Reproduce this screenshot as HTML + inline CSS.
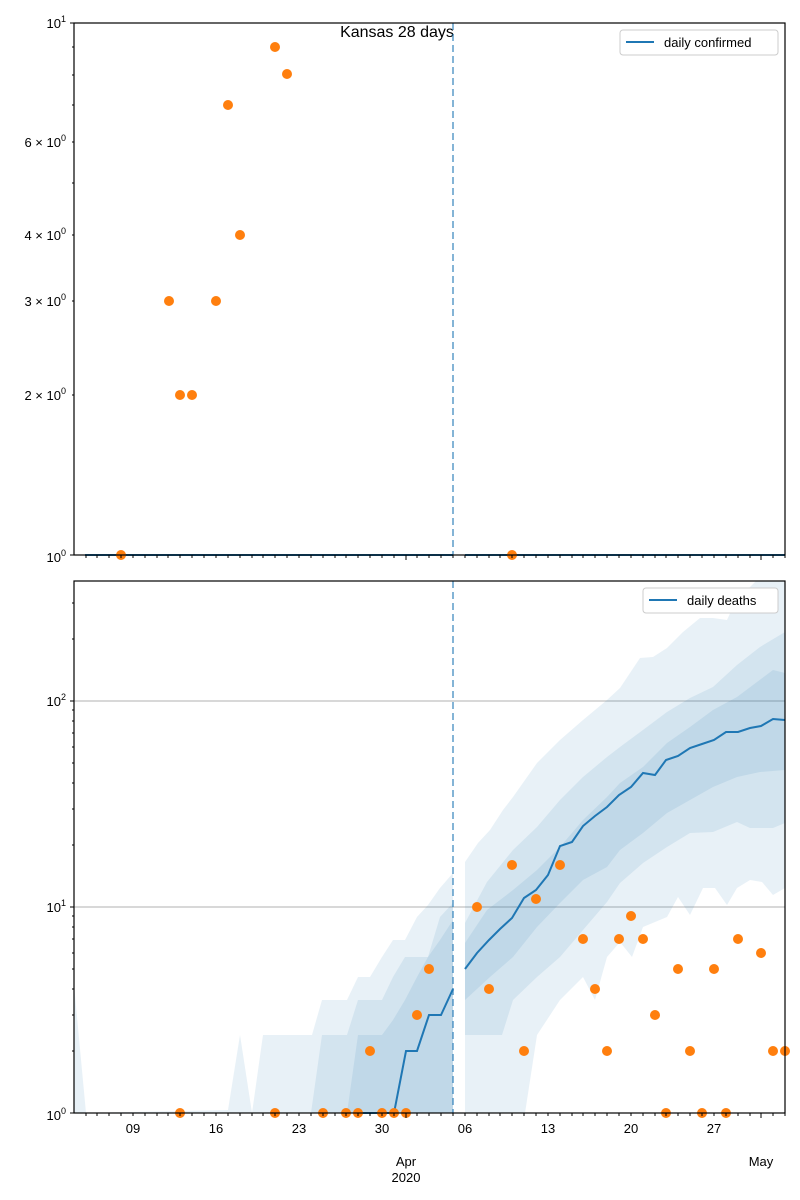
<!DOCTYPE html>
<html><head><meta charset="utf-8"><style>body{margin:0;background:#fff}svg{display:block}</style></head>
<body>
<svg width="800" height="1200" xmlns="http://www.w3.org/2000/svg" font-family="Liberation Sans, DejaVu Sans, sans-serif">
<rect width="800" height="1200" fill="#fff"/>
<!-- TOP PANEL -->
<text x="397" y="37" font-size="16" text-anchor="middle">Kansas 28 days</text>
<line x1="85" y1="555" x2="453" y2="555" stroke="#1f77b4" stroke-width="2"/>
<line x1="465" y1="555" x2="785" y2="555" stroke="#1f77b4" stroke-width="2"/>
<line x1="453" y1="23" x2="453" y2="555" stroke="#1f77b4" stroke-opacity="0.55" stroke-width="2" stroke-dasharray="7,4"/>
<g fill="#ff7f0e">
<circle cx="121" cy="555" r="5"/><circle cx="169" cy="301" r="5"/><circle cx="180" cy="395" r="5"/><circle cx="192" cy="395" r="5"/><circle cx="216" cy="301" r="5"/><circle cx="228" cy="105" r="5"/><circle cx="240" cy="235" r="5"/><circle cx="275" cy="47" r="5"/><circle cx="287" cy="74" r="5"/><circle cx="512" cy="555" r="5"/>
</g>
<rect x="74" y="23" width="711" height="532" fill="none" stroke="#000" stroke-width="1.2"/>
<g stroke="#000" stroke-width="1">
<line x1="70" y1="23" x2="74" y2="23"/><line x1="70" y1="555" x2="74" y2="555"/>
<line x1="72" y1="47" x2="74" y2="47"/><line x1="72" y1="75" x2="74" y2="75"/><line x1="72" y1="105" x2="74" y2="105"/><line x1="72" y1="142" x2="74" y2="142"/><line x1="72" y1="183" x2="74" y2="183"/><line x1="72" y1="235" x2="74" y2="235"/><line x1="72" y1="301" x2="74" y2="301"/><line x1="72" y1="395" x2="74" y2="395"/>
</g>
<g font-size="13" text-anchor="end">
<text x="66" y="28">10<tspan dy="-6" font-size="9">1</tspan></text>
<text x="66" y="147">6 × 10<tspan dy="-6" font-size="9">0</tspan></text>
<text x="66" y="240">4 × 10<tspan dy="-6" font-size="9">0</tspan></text>
<text x="66" y="306">3 × 10<tspan dy="-6" font-size="9">0</tspan></text>
<text x="66" y="400">2 × 10<tspan dy="-6" font-size="9">0</tspan></text>
<text x="66" y="562">10<tspan dy="-6" font-size="9">0</tspan></text>
</g>
<rect x="620" y="30" width="158" height="25" rx="3" fill="#fff" stroke="#ccc"/>
<line x1="626" y1="42" x2="654" y2="42" stroke="#1f77b4" stroke-width="2"/>
<text x="664" y="47" font-size="13">daily confirmed</text>

<!-- BOTTOM PANEL -->
<line x1="74" y1="907" x2="785" y2="907" stroke="#b0b0b0" stroke-width="1"/>
<line x1="74" y1="701" x2="785" y2="701" stroke="#b0b0b0" stroke-width="1"/>
<g fill="#1f77b4" fill-opacity="0.1">
<polygon points="74,985 86,1113 228,1110 240,1035 252,1113 263,1035 312,1035 322,1000 347,1000 358,977 370,977 382,957 393,940 405,940 417,917 428,905 440,888 453,873 453,1113 74,1113"/>
<polygon points="311,1113 322,1035 347,1035 358,1000 382,1000 393,977 405,957 428,957 440,917 453,903 453,1113"/>
<polygon points="347,1113 358,1035 382,1035 393,1020 405,1000 417,977 428,957 440,940 453,920 453,1113 440,1113"/>
<polygon points="465,862 478,843 490,830 503,810 513,797 537,763 560,740 583,720 607,700 620,688 640,658 653,657 667,648 683,632 700,618 713,618 727,620 733,607 750,587 756,581 785,581 785,888 773,895 762,882 750,880 737,888 727,905 715,888 703,888 690,915 678,897 667,917 643,927 632,957 620,942 607,957 595,1000 583,977 560,1000 537,1035 525,1113 465,1113"/>
<polygon points="465,923 487,882 513,850 537,827 560,800 583,777 607,757 620,747 643,730 667,712 690,698 713,687 737,665 760,647 785,632 785,823 773,828 750,828 737,822 713,832 690,833 667,847 643,863 620,883 607,902 583,930 560,957 537,977 513,1000 502,1035 465,1035"/>
<polygon points="465,943 487,910 513,890 537,870 560,847 583,820 607,797 620,783 643,767 667,743 690,727 713,710 737,697 773,670 785,673 785,770 760,772 737,777 713,787 690,800 667,813 643,833 620,850 607,867 583,880 560,903 537,927 513,957 490,977 465,1000"/>
</g>
<polyline fill="none" stroke="#1f77b4" stroke-width="2" points="358,1113 394,1113 406,1051 417,1051 429,1015 441,1015 453,989"/>
<polyline fill="none" stroke="#1f77b4" stroke-width="2" points="465,969 477,953 489,940 500,929 512,918 524,898 536,890 548,875 560,846 572,842 583,826 595,816 607,807 619,795 631,787 643,773 655,775 666,760 678,756 690,748 702,744 714,740 726,732 738,732 750,728 761,726 773,719 785,720"/>
<line x1="453" y1="581" x2="453" y2="1113" stroke="#1f77b4" stroke-opacity="0.55" stroke-width="2" stroke-dasharray="7,4"/>
<g fill="#ff7f0e">
<circle cx="180" cy="1113" r="5"/><circle cx="275" cy="1113" r="5"/><circle cx="323" cy="1113" r="5"/><circle cx="346" cy="1113" r="5"/><circle cx="358" cy="1113" r="5"/><circle cx="370" cy="1051" r="5"/><circle cx="382" cy="1113" r="5"/><circle cx="394" cy="1113" r="5"/><circle cx="406" cy="1113" r="5"/><circle cx="417" cy="1015" r="5"/><circle cx="429" cy="969" r="5"/><circle cx="477" cy="907" r="5"/><circle cx="489" cy="989" r="5"/><circle cx="512" cy="865" r="5"/><circle cx="524" cy="1051" r="5"/><circle cx="536" cy="899" r="5"/><circle cx="560" cy="865" r="5"/><circle cx="583" cy="939" r="5"/><circle cx="595" cy="989" r="5"/><circle cx="607" cy="1051" r="5"/><circle cx="619" cy="939" r="5"/><circle cx="631" cy="916" r="5"/><circle cx="643" cy="939" r="5"/><circle cx="655" cy="1015" r="5"/><circle cx="666" cy="1113" r="5"/><circle cx="678" cy="969" r="5"/><circle cx="690" cy="1051" r="5"/><circle cx="702" cy="1113" r="5"/><circle cx="714" cy="969" r="5"/><circle cx="726" cy="1113" r="5"/><circle cx="738" cy="939" r="5"/><circle cx="761" cy="953" r="5"/><circle cx="773" cy="1051" r="5"/><circle cx="785" cy="1051" r="5"/>
</g>
<rect x="74" y="581" width="711" height="532" fill="none" stroke="#000" stroke-width="1.2"/>
<g stroke="#000" stroke-width="1">
<line x1="70" y1="701" x2="74" y2="701"/><line x1="70" y1="907" x2="74" y2="907"/><line x1="70" y1="1113" x2="74" y2="1113"/>
<line x1="72" y1="1051" x2="74" y2="1051"/><line x1="72" y1="1015" x2="74" y2="1015"/><line x1="72" y1="989" x2="74" y2="989"/><line x1="72" y1="969" x2="74" y2="969"/><line x1="72" y1="953" x2="74" y2="953"/><line x1="72" y1="939" x2="74" y2="939"/><line x1="72" y1="927" x2="74" y2="927"/><line x1="72" y1="916" x2="74" y2="916"/>
<line x1="72" y1="845" x2="74" y2="845"/><line x1="72" y1="809" x2="74" y2="809"/><line x1="72" y1="783" x2="74" y2="783"/><line x1="72" y1="763" x2="74" y2="763"/><line x1="72" y1="747" x2="74" y2="747"/><line x1="72" y1="733" x2="74" y2="733"/><line x1="72" y1="721" x2="74" y2="721"/><line x1="72" y1="710" x2="74" y2="710"/>
<line x1="72" y1="639" x2="74" y2="639"/><line x1="72" y1="603" x2="74" y2="603"/>
</g>
<g font-size="13" text-anchor="end">
<text x="66" y="706">10<tspan dy="-6" font-size="9">2</tspan></text>
<text x="66" y="912">10<tspan dy="-6" font-size="9">1</tspan></text>
<text x="66" y="1120">10<tspan dy="-6" font-size="9">0</tspan></text>
</g>
<rect x="643" y="588" width="135" height="25" rx="3" fill="#fff" stroke="#ccc"/>
<line x1="649" y1="600" x2="677" y2="600" stroke="#1f77b4" stroke-width="2"/>
<text x="687" y="605" font-size="13">daily deaths</text>

<!-- x ticks -->
<g stroke="#000" stroke-width="1">
<path d="M406,555v5M761,555v5M406,1113v5M761,1113v5"/>
<path d="M86,1113v3M97,1113v3M109,1113v3M121,1113v3M133,1113v3M145,1113v3M157,1113v3M168,1113v3M180,1113v3M192,1113v3M204,1113v3M216,1113v3M228,1113v3M240,1113v3M252,1113v3M263,1113v3M275,1113v3M287,1113v3M299,1113v3M311,1113v3M323,1113v3M335,1113v3M346,1113v3M358,1113v3M370,1113v3M382,1113v3M394,1113v3M417,1113v3M429,1113v3M441,1113v3M453,1113v3M465,1113v3M477,1113v3M489,1113v3M500,1113v3M512,1113v3M524,1113v3M536,1113v3M548,1113v3M560,1113v3M572,1113v3M583,1113v3M595,1113v3M607,1113v3M619,1113v3M631,1113v3M643,1113v3M655,1113v3M666,1113v3M678,1113v3M690,1113v3M702,1113v3M714,1113v3M726,1113v3M738,1113v3M750,1113v3M773,1113v3M785,1113v3"/>
<path d="M86,555v3M97,555v3M109,555v3M121,555v3M133,555v3M145,555v3M157,555v3M168,555v3M180,555v3M192,555v3M204,555v3M216,555v3M228,555v3M240,555v3M252,555v3M263,555v3M275,555v3M287,555v3M299,555v3M311,555v3M323,555v3M335,555v3M346,555v3M358,555v3M370,555v3M382,555v3M394,555v3M417,555v3M429,555v3M441,555v3M453,555v3M465,555v3M477,555v3M489,555v3M500,555v3M512,555v3M524,555v3M536,555v3M548,555v3M560,555v3M572,555v3M583,555v3M595,555v3M607,555v3M619,555v3M631,555v3M643,555v3M655,555v3M666,555v3M678,555v3M690,555v3M702,555v3M714,555v3M726,555v3M738,555v3M750,555v3M773,555v3M785,555v3"/>
</g>
<g font-size="13" text-anchor="middle">
<text x="133" y="1133">09</text><text x="216" y="1133">16</text><text x="299" y="1133">23</text><text x="382" y="1133">30</text><text x="465" y="1133">06</text><text x="548" y="1133">13</text><text x="631" y="1133">20</text><text x="714" y="1133">27</text>
<text x="406" y="1166">Apr</text><text x="406" y="1182">2020</text><text x="761" y="1166">May</text>
</g>
</svg>
</body></html>
